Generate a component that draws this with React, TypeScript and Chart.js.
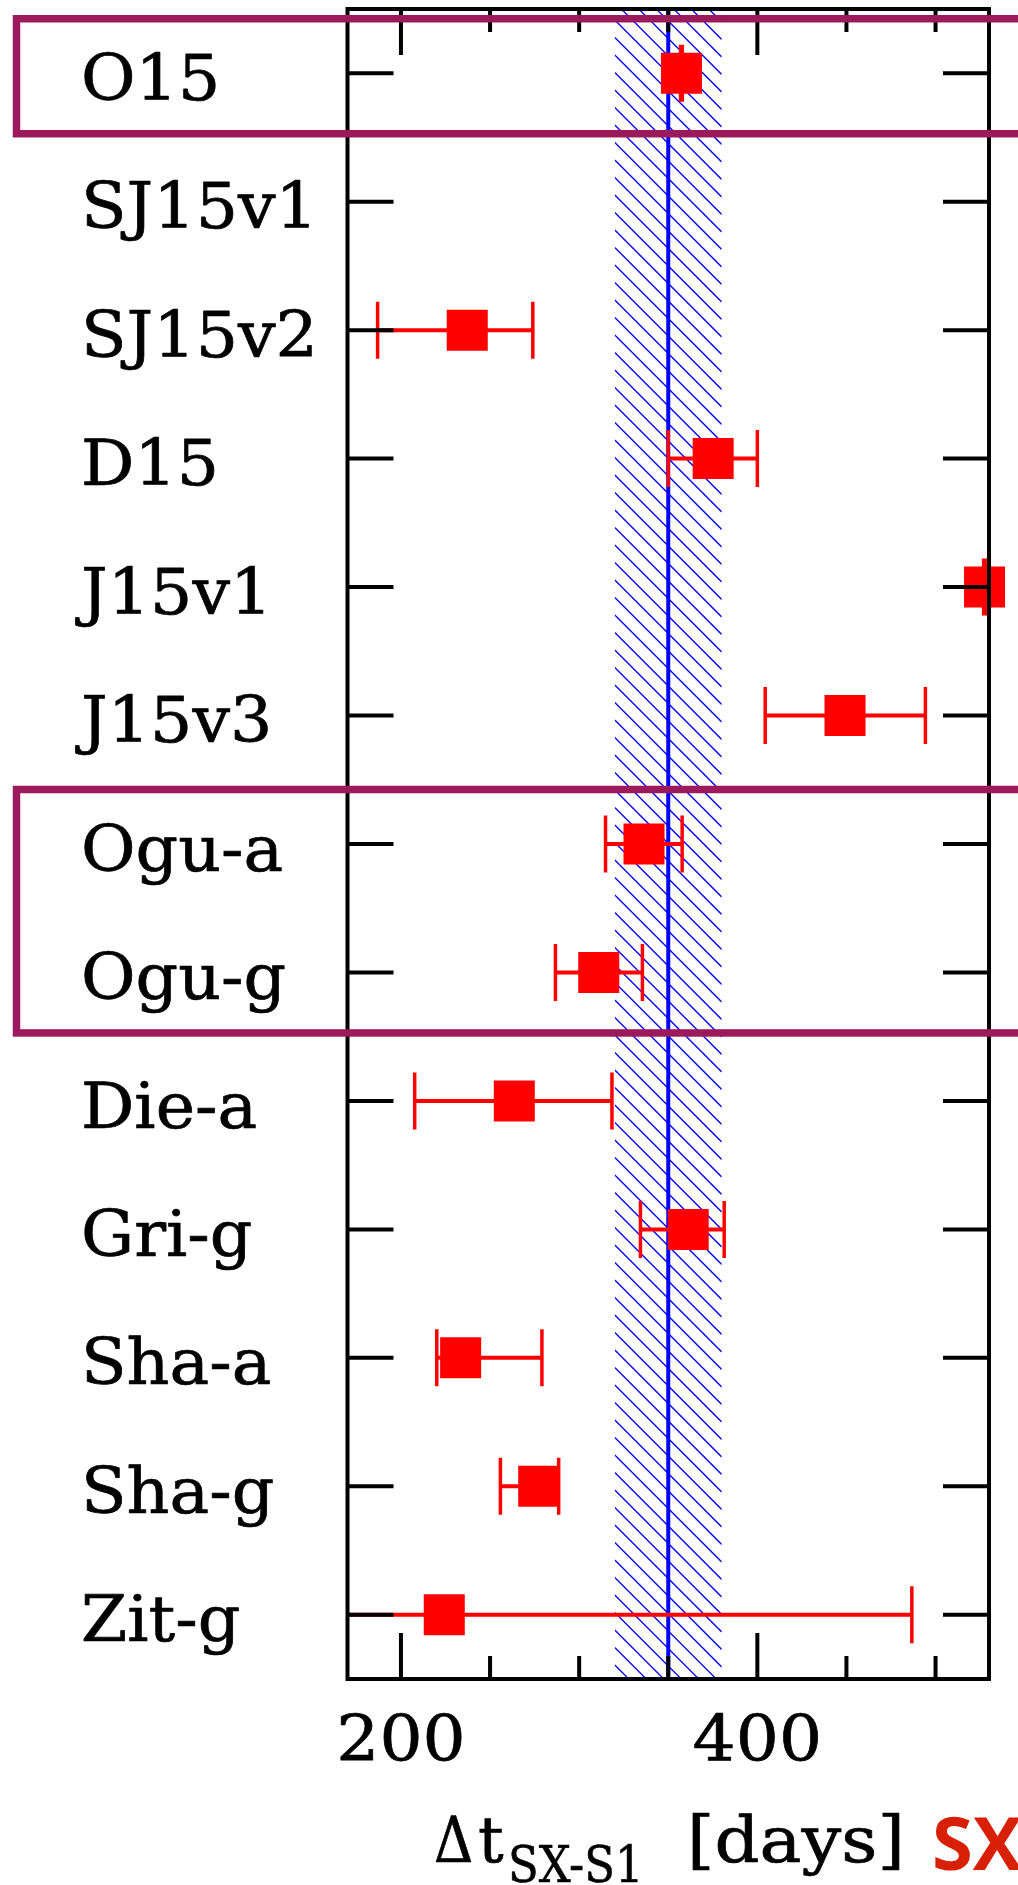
import React, { useEffect, useRef } from 'react';
import { Chart, registerables } from 'chart.js';

Chart.register(...registerables);

// ---- data ----
const categories = ['O15', 'SJ15v1', 'SJ15v2', 'D15', 'J15v1', 'J15v3', 'Ogu-a', 'Ogu-g', 'Die-a', 'Gri-g', 'Sha-a', 'Sha-g', 'Zit-g'];
const delays: (number | null)[] = [357.4, null, 237.2, 375.2, 527.5, 449.2, 336.4, 311.0, 263.6, 361.2, 233.5, 277.3, 224.3];
const errMinus: (number | null)[] = [0.5, null, 50.3, 25.2, 0.5, 44.8, 21.6, 24.3, 55.9, 26.8, 13.4, 21.5, 60.0];
const errPlus: (number | null)[] = [0.5, null, 36.8, 24.8, 0.5, 45.1, 21.4, 24.5, 54.8, 20.2, 45.6, 11.2, 262.4];
const highlightGroups = [['O15'], ['Ogu-a', 'Ogu-g']];
const xMin = 170;
const xMax = 530;
const xMajorTicks = [200, 400];
const xMinorTicks = [250, 300, 350, 450, 500];
const combinedDelay = 350;
const combinedErr = 30;
const axisTitleDelta = 'Δ';
const axisTitleT = 't';
const axisTitleSub = 'SX-S1';
const axisTitleUnit = '[days]';
const axisTitleTag = 'SX';

// ---- styles ----
const SERIF = '"DejaVu Serif", serif';
const RED = '#ff0000';
const BLUE = '#0000ff';
const PURPLE = 'rgb(155,26,92)';
const TAG_RED = 'rgb(216,32,6)';

const W = 1018;
const H = 1885;

function drawText(ctx: CanvasRenderingContext2D, text: string, x: number, y: number, sx: number, weight = 0.7) {
  ctx.save();
  ctx.translate(x, y);
  ctx.scale(sx, 1);
  ctx.fillText(text, 0, 0);
  if (weight > 0) {
    ctx.lineWidth = weight;
    ctx.strokeStyle = ctx.fillStyle as string;
    ctx.lineJoin = 'round';
    ctx.strokeText(text, 0, 0);
  }
  ctx.restore();
}

const decorPlugin = {
  id: 'decor',
  beforeDatasetsDraw(chart: any) {
    const { ctx, chartArea: a, scales } = chart;
    const x = scales.x;
    const y = scales.y;
    // hatched band
    const x0 = x.getPixelForValue(combinedDelay - combinedErr);
    const x1 = x.getPixelForValue(combinedDelay + combinedErr);
    const bw = x1 - x0;
    const slope = 1.0;
    const step = 17.5;
    ctx.save();
    ctx.beginPath();
    ctx.rect(x0, a.top, bw, a.bottom - a.top);
    ctx.clip();
    ctx.strokeStyle = BLUE;
    ctx.lineWidth = 1.3;
    ctx.beginPath();
    const startY = a.top + 11 - Math.ceil((slope * bw) / step + 1) * step;
    for (let yy = startY; yy < a.bottom + step; yy += step) {
      ctx.moveTo(x0, yy);
      ctx.lineTo(x1, yy + slope * bw);
    }
    ctx.stroke();
    ctx.restore();
    // central line
    const xc = x.getPixelForValue(combinedDelay);
    ctx.save();
    ctx.strokeStyle = BLUE;
    ctx.lineWidth = 4;
    ctx.beginPath();
    ctx.moveTo(xc, a.top);
    ctx.lineTo(xc, a.bottom);
    ctx.stroke();
    ctx.restore();
    // error bars
    ctx.save();
    ctx.beginPath();
    ctx.rect(a.left, a.top, a.right - a.left, a.bottom - a.top);
    ctx.clip();
    ctx.strokeStyle = RED;
    delays.forEach((v, i) => {
      if (v == null) return;
      const py = y.getPixelForValue(i);
      const xl = x.getPixelForValue(v - (errMinus[i] as number));
      const xr = x.getPixelForValue(v + (errPlus[i] as number));
      ctx.lineWidth = 4;
      ctx.beginPath();
      ctx.moveTo(xl, py);
      ctx.lineTo(xr, py);
      ctx.stroke();
      ctx.lineWidth = 3.5;
      ctx.beginPath();
      ctx.moveTo(xl, py - 28.5);
      ctx.lineTo(xl, py + 28.5);
      ctx.moveTo(xr, py - 28.5);
      ctx.lineTo(xr, py + 28.5);
      ctx.stroke();
    });
    ctx.restore();
  },
  afterDatasetsDraw(chart: any) {
    const { ctx, chartArea: a, scales } = chart;
    const x = scales.x;
    const y = scales.y;
    ctx.save();
    ctx.strokeStyle = '#000';
    ctx.lineWidth = 4;
    ctx.lineCap = 'butt';
    // ticks
    ctx.beginPath();
    categories.forEach((_, i) => {
      const py = y.getPixelForValue(i);
      ctx.moveTo(a.left, py);
      ctx.lineTo(a.left + 46, py);
      ctx.moveTo(a.right, py);
      ctx.lineTo(a.right - 46, py);
    });
    xMajorTicks.forEach((v) => {
      const px = x.getPixelForValue(v);
      ctx.moveTo(px, a.bottom);
      ctx.lineTo(px, a.bottom - 46);
      ctx.moveTo(px, a.top);
      ctx.lineTo(px, a.top + 46);
    });
    xMinorTicks.forEach((v) => {
      const px = x.getPixelForValue(v);
      ctx.moveTo(px, a.bottom);
      ctx.lineTo(px, a.bottom - 23);
      ctx.moveTo(px, a.top);
      ctx.lineTo(px, a.top + 23);
    });
    ctx.stroke();
    // frame
    ctx.lineJoin = 'miter';
    ctx.strokeRect(a.left, a.top, a.right - a.left, a.bottom - a.top);
    ctx.restore();

    // tick labels
    ctx.save();
    ctx.fillStyle = '#000';
    ctx.font = `64px ${SERIF}`;
    ctx.textBaseline = 'middle';
    ctx.textAlign = 'left';
    categories.forEach((c, i) => {
      drawText(ctx, c, 81, y.getPixelForValue(i) + 10, 1.04);
    });
    ctx.textAlign = 'center';
    xMajorTicks.forEach((v) => {
      drawText(ctx, String(v), x.getPixelForValue(v), a.bottom + 65.5, 1.06);
    });
    ctx.restore();

    // highlight boxes
    ctx.save();
    ctx.strokeStyle = PURPLE;
    ctx.lineWidth = 7.5;
    highlightGroups.forEach((g) => {
      const i0 = categories.indexOf(g[0]);
      const i1 = categories.indexOf(g[g.length - 1]);
      const top = y.getPixelForValue(i0) - 54.5;
      const bottom = y.getPixelForValue(i1) + 60.5;
      ctx.strokeRect(16.5, top, W + 40, bottom - top);
    });
    ctx.restore();

    // axis title
    ctx.save();
    ctx.fillStyle = '#000';
    ctx.textBaseline = 'alphabetic';
    ctx.textAlign = 'left';
    ctx.font = `64px ${SERIF}`;
    drawText(ctx, axisTitleDelta, 434, 1862, 0.85);
    drawText(ctx, axisTitleT, 478, 1862, 1.0);
    ctx.font = `51px ${SERIF}`;
    drawText(ctx, axisTitleSub, 508, 1882, 0.88, 0.6);
    ctx.font = `64px ${SERIF}`;
    drawText(ctx, axisTitleUnit, 687, 1862, 1.1);
    ctx.fillStyle = TAG_RED;
    ctx.font = `bold 74px "Open Sans", "Noto Sans", sans-serif`;
    ctx.fillText(axisTitleTag, 932, 1870);
    ctx.restore();
  },
};

export default function App() {
  const ref = useRef<HTMLCanvasElement | null>(null);
  useEffect(() => {
    document.body.style.margin = '0';
    const canvas = ref.current;
    if (!canvas) return;
    const points = delays
      .map((v, i) => (v == null ? null : { x: v, y: i }))
      .filter((p) => p !== null) as { x: number; y: number }[];
    const chart = new Chart(canvas, {
      type: 'scatter',
      data: {
        datasets: [
          {
            data: points,
            pointStyle: 'rect',
            pointRadius: 29,
            pointHoverRadius: 29,
            backgroundColor: RED,
            borderWidth: 0,
            clip: false as any,
          },
        ],
      },
      plugins: [decorPlugin],
      options: {
        animation: false,
        responsive: false,
        devicePixelRatio: 1,
        events: [],
        layout: { autoPadding: false, padding: { left: 347.5, top: 9, right: 29, bottom: 206 } },
        plugins: { legend: { display: false }, tooltip: { enabled: false } },
        scales: {
          x: {
            type: 'linear',
            display: false,
            min: xMin,
            max: xMax,
          },
          y: {
            type: 'linear',
            display: false,
            reverse: true,
            min: -0.5,
            max: categories.length - 0.5,
          },
        },
      },
    });
    return () => chart.destroy();
  }, []);
  return (
    <div style={{ width: W, height: H, background: '#fff' }}>
      <canvas ref={ref} width={W} height={H} style={{ display: 'block' }} />
    </div>
  );
}
